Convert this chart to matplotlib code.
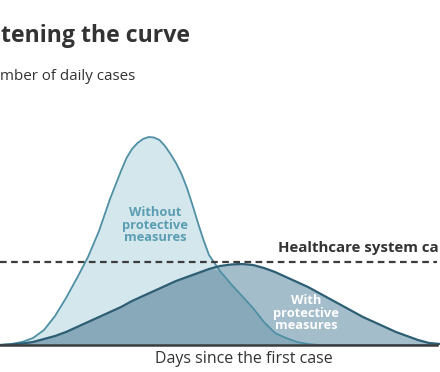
import numpy as np
import matplotlib.pyplot as plt

# days since first case (x axis has no ticks, units are arbitrary)
days = [0, 2, 4, 6, 8, 10, 12, 14, 16, 18, 20,
        22, 23, 24, 25, 26, 27, 28, 29, 30, 31, 32, 33, 34, 35, 36, 37, 38,
        40, 42, 44, 46, 48, 50, 52, 54, 56, 58, 60,
        62, 64, 66, 68, 70, 72, 74, 76, 78, 80]

# daily cases without protective measures (tall peak)
cases_without = [0, 1, 3, 7, 15, 29, 47, 67, 88, 114, 146,
                 174, 187, 196, 202, 206, 208, 207.5, 205, 199, 191, 182, 171, 157, 140, 122, 105, 90,
                 74, 61, 49, 37, 23, 12, 7, 3, 1, 0, 0,
                 0, 0, 0, 0, 0, 0, 0, 0, 0, 0]

# daily cases with protective measures (flattened curve)
cases_with = [0, 0.5, 1.5, 3, 6, 9, 13, 18, 23, 28, 33,
              38, 41, 44, 46.5, 49, 51.5, 54, 56.5, 59, 61.5, 64, 66, 68, 70, 72, 74, 76,
              79, 80.5, 81, 80, 77, 73, 68, 63, 58, 52, 46,
              40, 34, 28, 23, 18, 13, 9, 5, 2, 1]

capacity = 83

# the reference image is cropped, so only the visible part of some texts shows
title = 'tening the curve'
subtitle = 'mber of daily cases'
xlabel = 'Days since the first case'
capacity_label = 'Healthcare system ca'
label_without = 'Without\nprotective\nmeasures'
label_with = 'With\nprotective\nmeasures'

W, H = 440, 372
fig = plt.figure(figsize=(W / 100, H / 100), dpi=100)
ax = fig.add_axes([0, 27 / H, 1, 220 / H])
ax.set_xlim(0, 80)
ax.set_ylim(0, 220)
ax.axis('off')

y1 = np.array(cases_without, dtype=float)
y2 = np.array(cases_with, dtype=float)

ax.fill_between(days, 0, y1, color='#d4e7ed', lw=0)
ax.fill_between(days, 0, y2, color='#a3bdcb', lw=0)
ax.fill_between(days, 0, np.minimum(y1, y2), color='#88a9b9', lw=0)
ax.plot(days, y1, color='#4f90a4', lw=1.3)
ax.plot(days, y2, color='#2d5e73', lw=1.6)

ax.plot([0, 437 / 5.5], [capacity, capacity], color='#3c3c3c', lw=1.6,
        ls=(0, (3, 2)))
ax.plot([0, 437 / 5.5], [0, 0], color='#3c3c3c', lw=1.8, clip_on=False)

ax.text(155 / 5.5, 120, label_without, ha='center', va='center',
        color='#5b9db2', fontsize=9.3, fontweight='bold', family='Open Sans',
        linespacing=0.95)
ax.text(306 / 5.5, 32, label_with, ha='center', va='center',
        color='white', fontsize=9.3, fontweight='bold', family='Open Sans',
        linespacing=0.95)

fig.text(278 / W, 1 - 248 / H, capacity_label, ha='left', va='center',
         color='#333333', fontsize=10.8, fontweight='bold', family='Open Sans')
fig.text(244 / W, 1 - 359 / H, xlabel, ha='center', va='center',
         color='#333333', fontsize=11.5, family='Open Sans')
fig.text(1 / W, 1 - 36 / H, title, ha='left', va='center',
         color='#333333', fontsize=16.7, fontweight='bold', family='Open Sans')
fig.text(0, 1 - 76 / H, subtitle, ha='left', va='center',
         color='#333333', fontsize=10.9, family='Open Sans')

fig.savefig('out.png', dpi=100)
